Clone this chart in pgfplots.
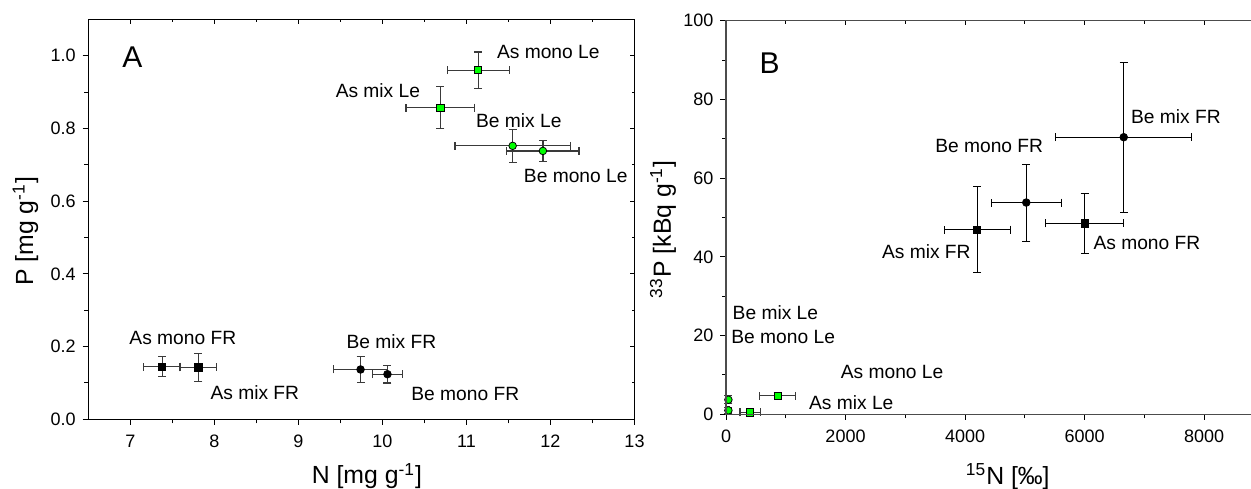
\documentclass[border=0pt]{standalone}
\usepackage{pgfplots}
\pgfplotsset{compat=1.18}
\usepackage{fontspec}
\setmainfont{Liberation Sans}
\definecolor{lgreen}{HTML}{00FF00}
\definecolor{ebar}{HTML}{3A3A3A}

\tikzset{
  lab/.style={anchor=west, inner sep=0pt, font=\fontsize{9.6}{11}\selectfont},
  big/.style={anchor=west, inner sep=0pt, font=\fontsize{15}{17}\selectfont},
}
\pgfplotsset{
  base/.style={
    scale only axis, anchor=south west, clip=false,
    axis line style={line width=0.6pt},
    minor tick num=1,
    tick style={line width=0.5pt, black},
    ticklabel style={font=\fontsize{9}{10}\selectfont},
    /pgf/number format/assume math mode=true,
    /pgf/number format/1000 sep={},
    label style={font=\fontsize{12.4}{15}\selectfont},
  },
  myaxis/.style={base,
    tick align=outside, xtick pos=left, ytick pos=left,
    major tick length=2.8pt, minor tick length=2pt,
    xticklabel style={yshift=-1.5pt},
  },
  mirror/.style={base,
    tick align=inside, xtick pos=right, ytick pos=right,
    major tick length=2.2pt, minor tick length=1.5pt,
    xticklabels={}, yticklabels={},
  },
  pts/.style={only marks,
    error bars/x dir=both, error bars/x explicit,
    error bars/y dir=both, error bars/y explicit,
    error bars/error mark=-,
    error bars/error bar style={line width=0.6pt, ebar},
    error bars/error mark options={rotate=90, line width=0.6pt, ebar, mark size=2pt}},
  gsq/.style={pts, mark=square*, mark size=1.8pt, mark options={fill=lgreen, draw=black, line width=0.4pt}},
  gci/.style={pts, mark=*, mark size=1.9pt, mark options={fill=lgreen, draw=black, line width=0.4pt}},
  bsq/.style={pts, mark=square*, mark size=1.8pt, mark options={fill=black, draw=black}},
  bci/.style={pts, mark=*, mark size=1.9pt, mark options={fill=black, draw=black}},
}

\begin{document}
\begin{tikzpicture}
\useasboundingbox (0,0) rectangle (625.5pt,244pt);

% ---------------- Panel A ----------------
\begin{axis}[myaxis, at={(44.15pt,34.35pt)}, width=273.1pt, height=200pt,
  xmin=6.5, xmax=13, ymin=0, ymax=1.1,
  xtick={7,8,9,10,11,12,13}, ytick={0,0.2,0.4,0.6,0.8,1.0},
  yticklabel style={/pgf/number format/.cd, fixed, fixed zerofill, precision=1},
  xlabel={N [mg g\textsuperscript{-1}]}, ylabel={P [mg g\textsuperscript{-1}]},
  xlabel style={at={(axis description cs:0.51,-0.142)}, anchor=center},
  ylabel style={at={(axis description cs:-0.115,0.47)}, anchor=center},
]
\addplot[gsq] table[x=x,y=y,x error=ex,y error=ey] {
x y ex ey
11.14 0.960 0.37 0.050
10.69 0.857 0.41 0.058
};
\addplot[gci] table[x=x,y=y,x error=ex,y error=ey] {
x y ex ey
11.55 0.752 0.685 0.046
11.91 0.738 0.43 0.028
};
\addplot[bsq] table[x=x,y=y,x error=ex,y error=ey] {
x y ex ey
7.38 0.145 0.22 0.028
7.81 0.143 0.22 0.038
};
\addplot[bci] table[x=x,y=y,x error=ex,y error=ey] {
x y ex ey
9.74 0.137 0.32 0.035
10.06 0.124 0.18 0.024
};
\node[big] at (axis cs:6.90,0.997) {A};
\node[lab] at (axis cs:11.36,1.011) {As mono Le};
\node[lab] at (axis cs:9.44,0.904) {As mix Le};
\node[lab] at (axis cs:11.11,0.821) {Be mix Le};
\node[lab] at (axis cs:11.68,0.670) {Be mono Le};
\node[lab] at (axis cs:6.985,0.223) {As mono FR};
\node[lab] at (axis cs:7.95,0.073) {As mix FR};
\node[lab] at (axis cs:9.57,0.214) {Be mix FR};
\node[lab] at (axis cs:10.34,0.070) {Be mono FR};
\end{axis}
\begin{axis}[mirror, at={(44.15pt,34.35pt)}, width=273.1pt, height=200pt,
  xmin=6.5, xmax=13, ymin=0, ymax=1.1,
  xtick={7,8,9,10,11,12,13}, ytick={0,0.2,0.4,0.6,0.8,1.0}]
\end{axis}

% ---------------- Panel B ----------------
\begin{axis}[myaxis, at={(363pt,36.85pt)}, width=268.9pt, height=196.8pt,
  xmin=0, xmax=9000, ymin=0, ymax=100,
  xtick={0,2000,4000,6000,8000}, ytick={0,20,40,60,80,100},
  xlabel={\textsuperscript{15}N [‰]}, ylabel={\textsuperscript{33}P [kBq g\textsuperscript{-1}]},
  xlabel style={at={(axis description cs:0.524,-0.159)}, anchor=center},
  ylabel style={at={(axis description cs:-0.117,0.47)}, anchor=center},
]
\addplot[gsq] table[x=x,y=y,x error=ex,y error=ey] {
x y ex ey
863 4.7 303 0.8
403 0.5 168 0.5
};
\addplot[gci] table[x=x,y=y,x error=ex,y error=ey] {
x y ex ey
40 3.7 20 1.0
40 1.0 20 0.8
};
\addplot[bsq, error bars/error bar style={black}, error bars/error mark options={rotate=90, black, mark size=2pt}] table[x=x,y=y,x error=ex,y error=ey] {
x y ex ey
4202 46.9 550 10.9
6000 48.5 650 7.7
};
\addplot[bci, error bars/error bar style={black}, error bars/error mark options={rotate=90, black, mark size=2pt}] table[x=x,y=y,x error=ex,y error=ey] {
x y ex ey
5025 53.8 590 9.75
6656 70.4 1140 19.0
};
\node[big] at (axis cs:555,89.2) {B};
\node[lab] at (axis cs:3496,68.2) {Be mono FR};
\node[lab] at (axis cs:2605,41.3) {As mix FR};
\node[lab] at (axis cs:6772,75.6) {Be mix FR};
\node[lab] at (axis cs:6144,43.4) {As mono FR};
\node[lab] at (axis cs:106,25.9) {Be mix Le};
\node[lab] at (axis cs:84,19.7) {Be mono Le};
\node[lab] at (axis cs:1916,10.8) {As mono Le};
\node[lab] at (axis cs:1384,3.0) {As mix Le};
\end{axis}
\begin{axis}[mirror, at={(363pt,36.85pt)}, width=268.9pt, height=196.8pt,
  xmin=0, xmax=9000, ymin=0, ymax=100,
  xtick={0,2000,4000,6000,8000}, ytick={0,20,40,60,80,100},
  axis line style={draw=black!70}]
\end{axis}
\end{tikzpicture}
\end{document}
